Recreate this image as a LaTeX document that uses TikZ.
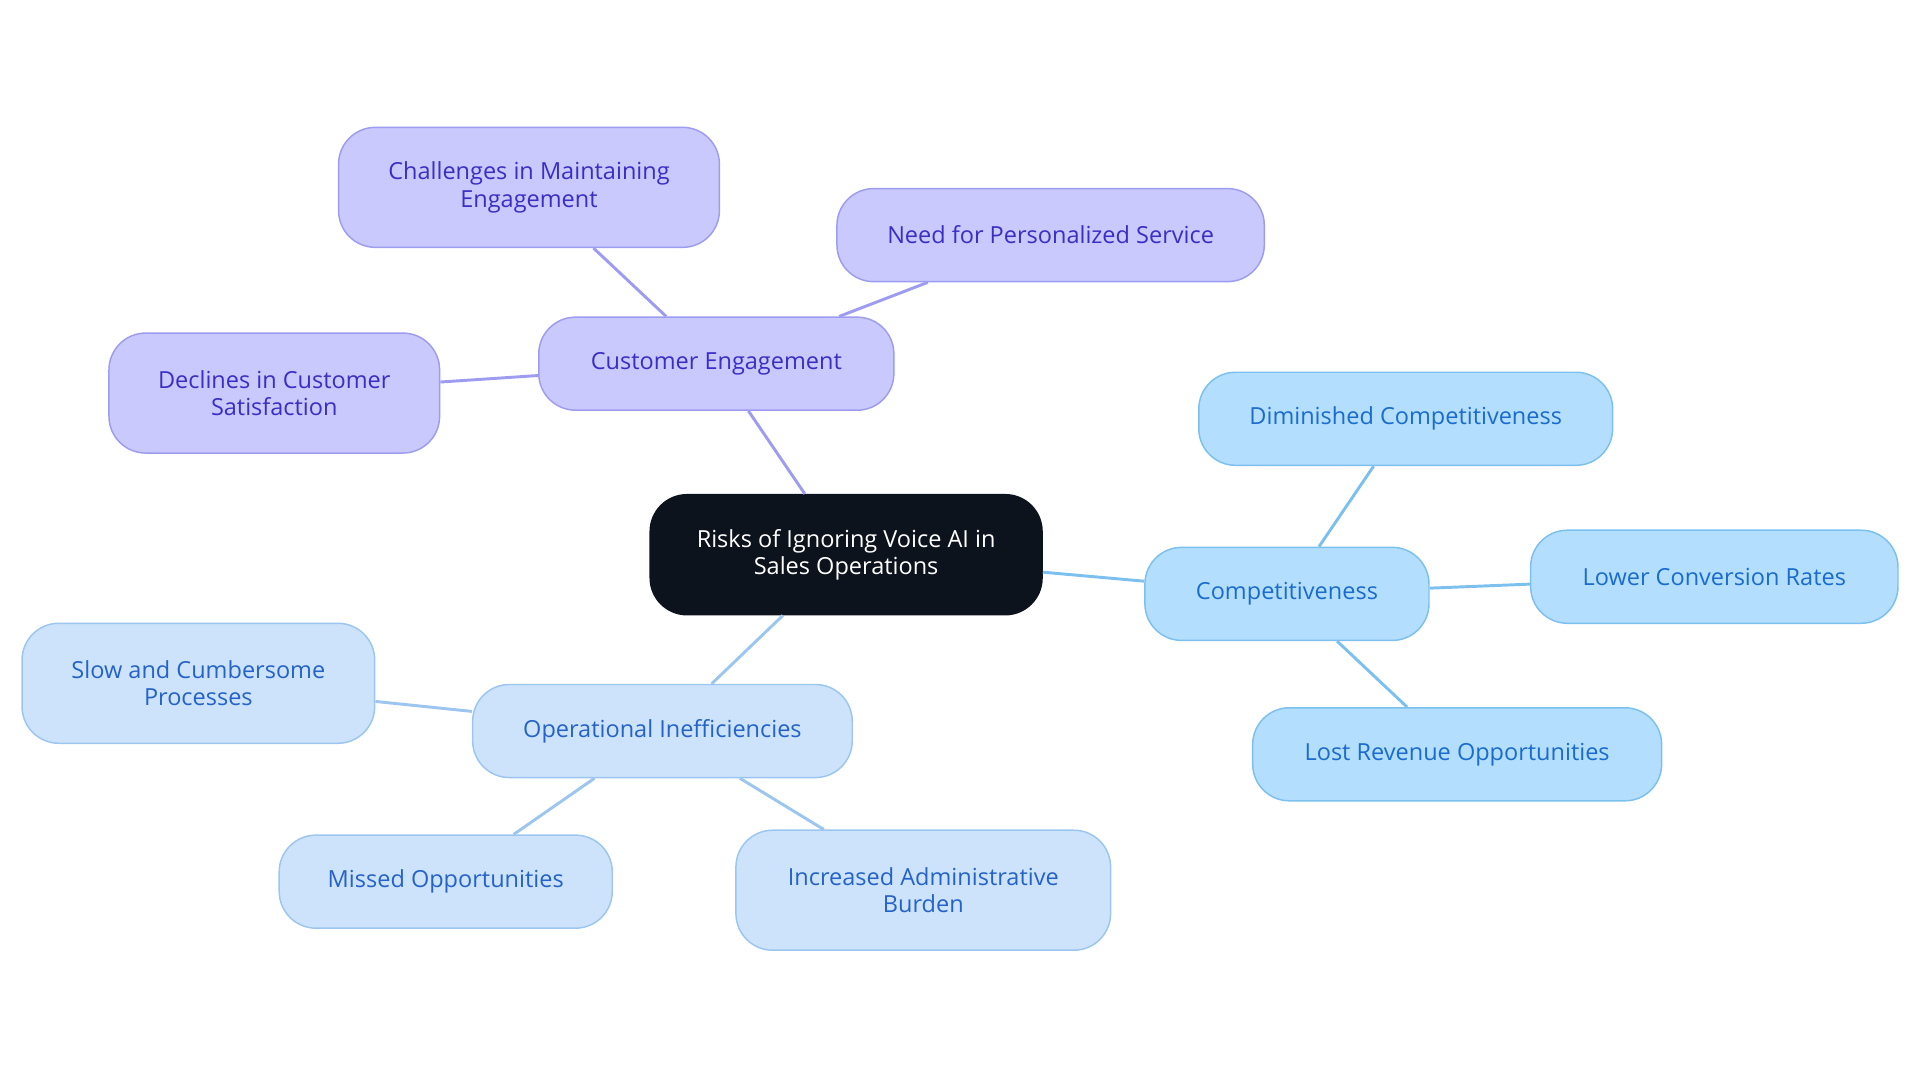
\documentclass[tikz,border=0pt]{standalone}
\usepackage{fontspec}
\setmainfont{Open Sans}
\definecolor{rootfill}{HTML}{0D131C}
\definecolor{cefill}{HTML}{C9C9FD}
\definecolor{celine}{HTML}{9D9CF0}
\definecolor{cetext}{HTML}{3A2FC5}
\definecolor{cofill}{HTML}{B4DEFD}
\definecolor{coline}{HTML}{7CC0EF}
\definecolor{cotext}{HTML}{1A6CCF}
\definecolor{opfill}{HTML}{CCE3FB}
\definecolor{opline}{HTML}{9CC6F0}
\definecolor{optext}{HTML}{2563C9}
\begin{document}
\begin{tikzpicture}[x=0.5pt,y=-0.5pt,
  box/.style 2 args={rounded corners=15pt,align=center,inner sep=0pt,
    minimum width=#1*0.5pt,minimum height=#2*0.5pt,line width=0.6pt,
    font=\fontsize{9.6}{11.2}\selectfont},
  root/.style={fill=rootfill,draw=rootfill,text=white},
  ce/.style={fill=cefill,draw=celine,text=cetext},
  co/.style={fill=cofill,draw=coline,text=cotext},
  op/.style={fill=opfill,draw=opline,text=optext},
  link/.style={line width=1.2pt}]
\useasboundingbox (0,0) rectangle (1568,884);
\node[box={320}{98},root] (r) at (691,453) {Risks of Ignoring Voice AI in\\Sales Operations};
\node[box={290}{76},ce] (ce) at (585,297) {Customer Engagement};
\node[box={311}{98},ce] (ce1) at (432,153) {Challenges in Maintaining\\Engagement};
\node[box={349}{76},ce] (ce2) at (858,192) {Need for Personalized Service};
\node[box={270}{98},ce] (ce3) at (224,321) {Declines in Customer\\Satisfaction};
\node[box={232}{76},co] (co) at (1051,485) {Competitiveness};
\node[box={338}{76},co] (co1) at (1148,342) {Diminished Competitiveness};
\node[box={300}{76},co] (co2) at (1400,471) {Lower Conversion Rates};
\node[box={334}{76},co] (co3) at (1190,616) {Lost Revenue Opportunities};
\node[box={310}{76},op] (op) at (541,597) {Operational Inefficiencies};
\node[box={288}{98},op] (op1) at (162,558) {Slow and Cumbersome\\Processes};
\node[box={272}{76},op] (op2) at (364,720) {Missed Opportunities};
\node[box={306}{98},op] (op3) at (754,727) {Increased Administrative\\Burden};
\begin{scope}[on background layer/.style={}]
\end{scope}
\begin{pgfinterruptboundingbox}\end{pgfinterruptboundingbox}
\draw[link,draw=celine] (r) -- (ce) (ce) -- (ce1) (ce) -- (ce2) (ce) -- (ce3);
\draw[link,draw=coline] (r) -- (co) (co) -- (co1) (co) -- (co2) (co) -- (co3);
\draw[link,draw=opline] (r) -- (op) (op) -- (op1) (op) -- (op2) (op) -- (op3);
\end{tikzpicture}
\end{document}
